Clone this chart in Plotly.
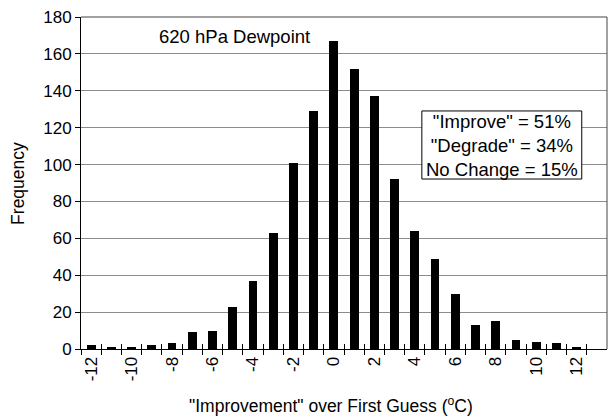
import plotly.graph_objects as go

improvement = list(range(-12, 13))
frequency = [2, 1, 1, 2, 3, 9, 10, 23, 37, 63, 101, 129, 167, 152, 137, 92, 64, 49, 30, 13, 15, 5, 4, 3, 1]
x_tick_vals = list(range(-12, 13, 2))
x_tick_text = [str(v) for v in x_tick_vals]
y_tick_vals = list(range(0, 181, 20))
stats_lines = ['"Improve" = 51%', '"Degrade" = 34%', 'No Change = 15%']

FONT = "Liberation Sans, Arial, Helvetica, sans-serif"
boundaries = [v + 0.5 for v in range(-13, 13)]

fig = go.Figure()
fig.add_trace(go.Bar(x=improvement, y=frequency, width=0.44,
                     marker=dict(color="black", line=dict(width=0)),
                     showlegend=False))
fig.add_trace(go.Scatter(x=[improvement[0]], y=[0], xaxis="x2", mode="markers",
                         marker=dict(opacity=0), showlegend=False, hoverinfo="skip"))

fig.update_layout(
    width=608, height=417,
    margin=dict(l=81, r=1, t=17, b=68, autoexpand=False),
    paper_bgcolor="white", plot_bgcolor="white",
    font=dict(family=FONT, size=17, color="black"),
    bargap=0,
    xaxis=dict(range=[-12.5, 13.5], tickvals=x_tick_vals, ticktext=x_tick_text,
               tickangle=-90, ticks="", showgrid=False, zeroline=False, automargin=False,
               showline=True, linecolor="black", linewidth=1, mirror=False,
               tickfont=dict(size=17),
               minor=dict(tickvals=boundaries, ticks="outside",
                          ticklen=5, tickcolor="black", tickwidth=1, showgrid=False)),
    xaxis2=dict(range=[-12.5, 13.5], overlaying="x", side="bottom", anchor="y",
                tickvals=boundaries, ticks="inside", ticklen=5, automargin=False,
                tickcolor="black", showticklabels=False, showgrid=False, zeroline=False,
                showline=False),
    yaxis=dict(range=[0, 180], tickvals=y_tick_vals, ticks="outside", ticklen=5,
               tickcolor="black", showgrid=True, gridcolor="#8c8c8c", gridwidth=1,
               zeroline=False, showline=True, linecolor="black", linewidth=1,
               automargin=False, mirror=False, tickfont=dict(size=17)),
)

fig.add_shape(type="line", xref="paper", yref="paper", x0=0, x1=1, y0=1, y1=1,
              line=dict(color="#444", width=1))
fig.add_shape(type="line", xref="paper", yref="paper", x0=1, x1=1, y0=0, y1=1,
              line=dict(color="#444", width=1))

fig.add_shape(type="rect", xref="paper", yref="paper", x0=0.648, x1=0.952,
              y0=0.512, y1=0.717, fillcolor="white", line=dict(color="black", width=1),
              layer="above")
fig.add_annotation(xref="paper", yref="paper", x=0.800, y=0.614,
                   text="<br>".join(stats_lines), showarrow=False, align="center",
                   font=dict(size=18.5), xanchor="center", yanchor="middle")

fig.add_annotation(xref="paper", yref="paper", x=0.291, y=0.940,
                   text="620 hPa Dewpoint", showarrow=False,
                   font=dict(size=18.5), xanchor="center", yanchor="middle")

fig.add_annotation(xref="paper", yref="paper", x=0.475, y=-0.169,
                   text='"Improvement" over First Guess (<sup>o</sup>C)', showarrow=False,
                   font=dict(size=17.5), xanchor="center", yanchor="middle")
fig.add_annotation(xref="paper", yref="paper", x=-0.120, y=0.5,
                   text="Frequency", showarrow=False, textangle=-90,
                   font=dict(size=17.5), xanchor="center", yanchor="middle")

fig.write_html("out.html", config={"displayModeBar": False},
               post_script="document.body.style.margin='0';")
